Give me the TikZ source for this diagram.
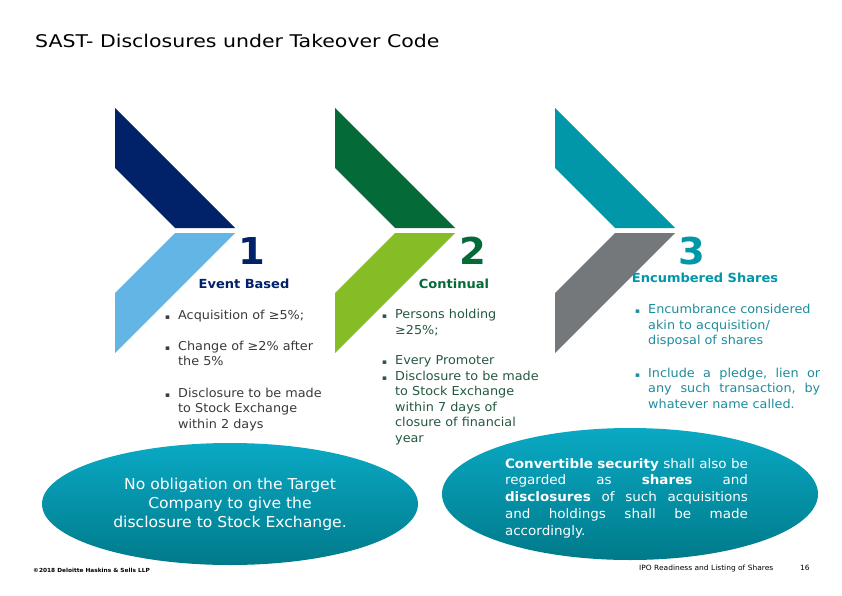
\documentclass[tikz,border=0pt]{standalone}
\usepackage{fontspec}
\setmainfont{DejaVu Sans}[FakeStretch=1.04]
\newfontfamily\sastwide{DejaVu Sans}[FakeStretch=1.17]
\usetikzlibrary{shapes.geometric}
\definecolor{sastNavy}{HTML}{012169}
\definecolor{sastSky}{HTML}{62B5E5}
\definecolor{sastForest}{HTML}{046A38}
\definecolor{sastLime}{HTML}{86BC25}
\definecolor{sastTeal}{HTML}{0097A9}
\definecolor{sastSlate}{HTML}{75787B}
\definecolor{sastInk}{HTML}{3A3A3A}
\definecolor{sastMoss}{HTML}{24593E}
\definecolor{sastLagoon}{HTML}{1E8C9C}
\definecolor{sastOvalTop}{HTML}{0AA9C4}
\definecolor{sastOvalBot}{HTML}{007A8A}
\newcommand{\sastpt}[1]{\par\noindent\hangindent=13pt\hangafter=1\makebox[13pt][l]{{\fontsize{7}{7}\selectfont ▪}}#1\par}
\tikzset{
  sast number/.style={font=\fontsize{37}{37}\selectfont\bfseries, anchor=base, inner sep=0pt},
  sast head/.style={font=\fontsize{12.5}{15}\selectfont\bfseries, anchor=base, inner sep=0pt},
  sast list/.style={font=\fontsize{12.3}{15.5}\selectfont, text width=200pt, align=left, anchor=base west, inner sep=0pt},
  sast oval/.style={ellipse, minimum width=376pt, inner sep=0pt, top color=sastOvalTop, bottom color=sastOvalBot, text=white},
  sast foot/.style={anchor=base west, inner sep=0pt},
}

\begin{document}
\begin{tikzpicture}[x=1pt,y=-1pt]
  \useasboundingbox (0,0) rectangle (842,596);
  \fill[white] (0,0) rectangle (842,596);
  \node[anchor=base west, inner sep=0pt, font=\sastwide\fontsize{17.5}{20}\selectfont] (title) at (35,48) {SAST- Disclosures under Takeover Code};
  % the three chevrons
  \foreach \ox/\upper/\lower in {0/sastNavy/sastSky, 220/sastForest/sastLime, 440/sastTeal/sastSlate} {
    \fill[\upper] (115+\ox,108) -- (235+\ox,228) -- (175+\ox,228) -- (115+\ox,168) -- cycle;
    \fill[\lower] (175+\ox,233) -- (235+\ox,233) -- (115+\ox,353) -- (115+\ox,293) -- cycle;
  }
  \node[sast number, text=sastNavy] (one) at (252,264) {1};
  \node[sast number, text=sastForest] (two) at (473,264) {2};
  \node[sast number, text=sastTeal] (three) at (692,264) {3};
  \node[sast head, text=sastNavy] (event) at (244,288) {Event Based};
  \node[sast head, text=sastForest] (continual) at (454,288) {Continual};
  \node[sast head, text=sastTeal] (encumbered) at (705,282) {Encumbered Shares};
  % bullet columns
  \node[sast list, text=sastInk] (eventlist) at (165,304) {%
    \sastpt{Acquisition of ≥5\%;}\vspace{15pt}
    \sastpt{Change of ≥2\% after\newline the 5\%}\vspace{16pt}
    \sastpt{Disclosure to be made\newline to Stock Exchange\newline within 2 days}};
  \node[sast list, text=sastMoss] (continuallist) at (382,303) {%
    \sastpt{Persons holding\newline ≥25\%;}\vspace{15pt}
    \sastpt{Every Promoter}
    \sastpt{Disclosure to be made\newline to Stock Exchange\newline within 7 days of\newline closure of financial\newline year}};
  \node[sast list, text=sastLagoon] (encumberedlist) at (635,298) {%
    \sastpt{Encumbrance considered\newline akin to acquisition/\newline disposal of shares}\vspace{17pt}
    \sastpt{\makebox[172pt][s]{Include\hfill a\hfill pledge,\hfill lien\hfill or}\newline
      \makebox[172pt][s]{any\hfill such\hfill transaction,\hfill by}\newline whatever name called.}};
  % the two ovals
  \node[sast oval, minimum height=122pt, align=center, font=\fontsize{15}{19}\selectfont] (target) at (230,504)
    {No obligation on the Target\\Company to give the\\disclosure to Stock Exchange.};
  \node[sast oval, minimum height=132pt, text width=250pt, align=left, font=\fontsize{13}{16.7}\selectfont] (convertible) at (630,494)
    {\rule{0pt}{18pt}\makebox[243pt][s]{\textbf{Convertible security}\hfill shall\hfill also\hfill be}\\
     \makebox[243pt][s]{regarded\hfill as\hfill \textbf{shares}\hfill and}\\
     \makebox[243pt][s]{\textbf{disclosures}\hfill of\hfill such\hfill acquisitions}\\
     \makebox[243pt][s]{and\hfill holdings\hfill shall\hfill be\hfill made}\\
     accordingly.};
  % footer
  \node[sast foot, font=\fontsize{5.6}{6}\selectfont\bfseries] (copyright) at (33,572) {©2018 Deloitte Haskins \& Sells LLP};
  \node[sast foot, font=\fontsize{7.2}{8}\selectfont] (deck) at (639,570) {IPO Readiness and Listing of Shares};
  \node[sast foot, font=\fontsize{7.2}{8}\selectfont] (page) at (800,570) {16};
\end{tikzpicture}
\end{document}
